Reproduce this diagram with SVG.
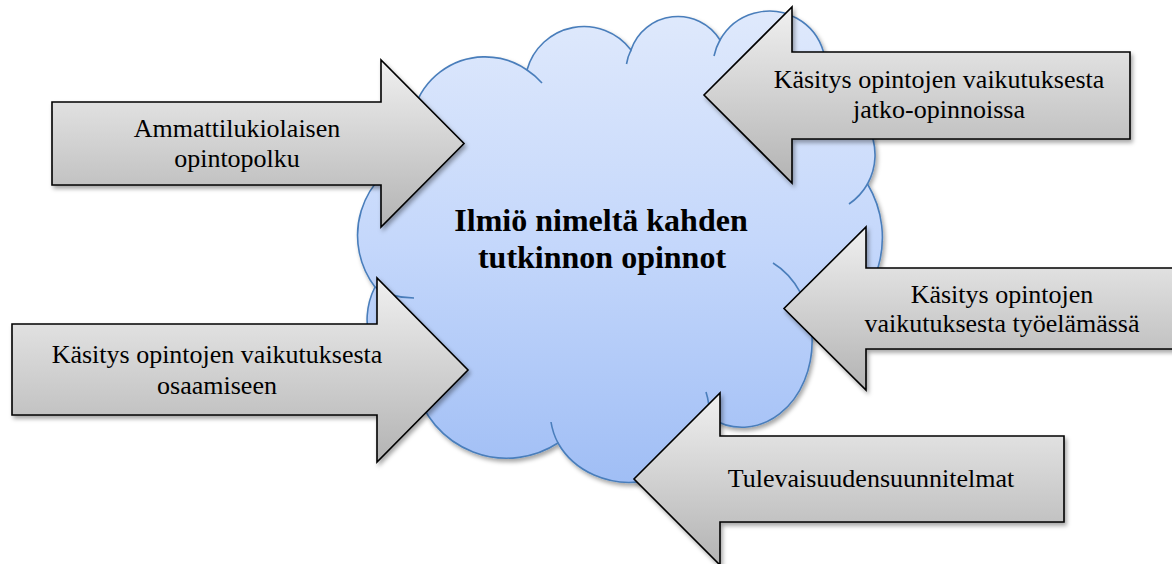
<svg xmlns="http://www.w3.org/2000/svg" width="1172" height="564" viewBox="0 0 1172 564">
<defs>
<linearGradient id="cloudFill" x1="0" y1="0" x2="0" y2="1">
<stop offset="0" stop-color="#dfe9fc"/>
<stop offset="0.5" stop-color="#c4d7fb"/>
<stop offset="1" stop-color="#a0bef5"/>
</linearGradient>
<linearGradient id="arrowFill" x1="0" y1="0" x2="0" y2="1">
<stop offset="0" stop-color="#f0f0f0"/>
<stop offset="1" stop-color="#b3b3b3"/>
</linearGradient>
<filter id="shadow" x="-10%" y="-10%" width="130%" height="130%">
<feDropShadow dx="2" dy="3" stdDeviation="2" flood-color="#000" flood-opacity="0.35"/>
</filter>
</defs>
<style>
.cloud{fill:url(#cloudFill);stroke:#4a7ebb;stroke-width:1.6;filter:url(#shadow)}
.tail{fill:none;stroke:#4a7ebb;stroke-width:1.6}
.arrow{fill:url(#arrowFill);stroke:#000;stroke-width:1.6;stroke-linejoin:miter;filter:url(#shadow)}
.lbl{font-family:"Liberation Serif","Times New Roman",serif;font-size:26px;fill:#000;text-anchor:middle}
.title{font-family:"Liberation Serif","Times New Roman",serif;font-size:32px;font-weight:bold;fill:#000;text-anchor:middle}
</style>
<rect width="1172" height="564" fill="#fff"/>
<g id="cloud">
<path class="cloud" d="M415,155 A74,74 0 0 1 527,70 A59,59 0 0 1 631,50 A49.5,49.5 0 0 1 720,40 A56,56 0 0 1 818.6,95 A60,60 0 0 1 867.5,184 A104,104 0 0 1 812,336 A70,86 0 0 1 709,417 A80,72 0 0 1 558,443 A94,94 0 0 1 416,388.5 A72.5,72.5 0 0 1 375,287 A85,85 0 0 1 415,155 Z"/>
<path class="tail" d="M527,70 A74,74 0 0 1 542,83"/>
<path class="tail" d="M631,50 A49.5,49.5 0 0 0 626.5,64"/>
<path class="tail" d="M720,40 A56,56 0 0 0 714,56"/>
<path class="tail" d="M867.5,184 A60,60 0 0 1 849,204"/>
<path class="tail" d="M773,263 A70,86 0 0 1 812,336"/>
<path class="tail" d="M709,417 A80,72 0 0 0 706,392"/>
<path class="tail" d="M558,443 A80,72 0 0 1 551,422"/>
<path class="tail" d="M375,287 C386,295 400,298 414,298"/>
<text class="title" x="601" y="231">Ilmiö nimeltä kahden</text>
<text class="title" x="602" y="268">tutkinnon opinnot</text>
</g>
<g id="connectors"></g>
<g id="arrow-opintopolku">
<path class="arrow" d="M52,102 H381 V60 L464,143.5 L381,227 V185 H52 Z"/>
<text class="lbl" x="237" y="137">Ammattilukiolaisen</text>
<text class="lbl" x="237" y="167">opintopolku</text>
</g>
<g id="arrow-osaaminen">
<path class="arrow" d="M12,324 H377 V278 L468,370 L377,462 V415 H12 Z"/>
<text class="lbl" x="217" y="363">Käsitys opintojen vaikutuksesta</text>
<text class="lbl" x="217" y="394">osaamiseen</text>
</g>
<g id="arrow-jatko-opinnot">
<path class="arrow" d="M1130,52 H792 V7 L704,95 L792,183 V139 H1130 Z"/>
<text class="lbl" x="939" y="88">Käsitys opintojen vaikutuksesta</text>
<text class="lbl" x="939" y="118">jatko-opinnoissa</text>
</g>
<g id="arrow-tyoelama">
<path class="arrow" d="M1190,268 H866 V227 L784,308.5 L866,390 V349 H1190 Z"/>
<text class="lbl" x="1002" y="303">Käsitys opintojen</text>
<text class="lbl" x="1002" y="332">vaikutuksesta työelämässä</text>
</g>
<g id="arrow-tulevaisuus">
<path class="arrow" d="M1064,436 H720 V393 L634,479 L720,565 V522 H1064 Z"/>
<text class="lbl" x="871" y="487">Tulevaisuudensuunnitelmat</text>
</g>
</svg>
